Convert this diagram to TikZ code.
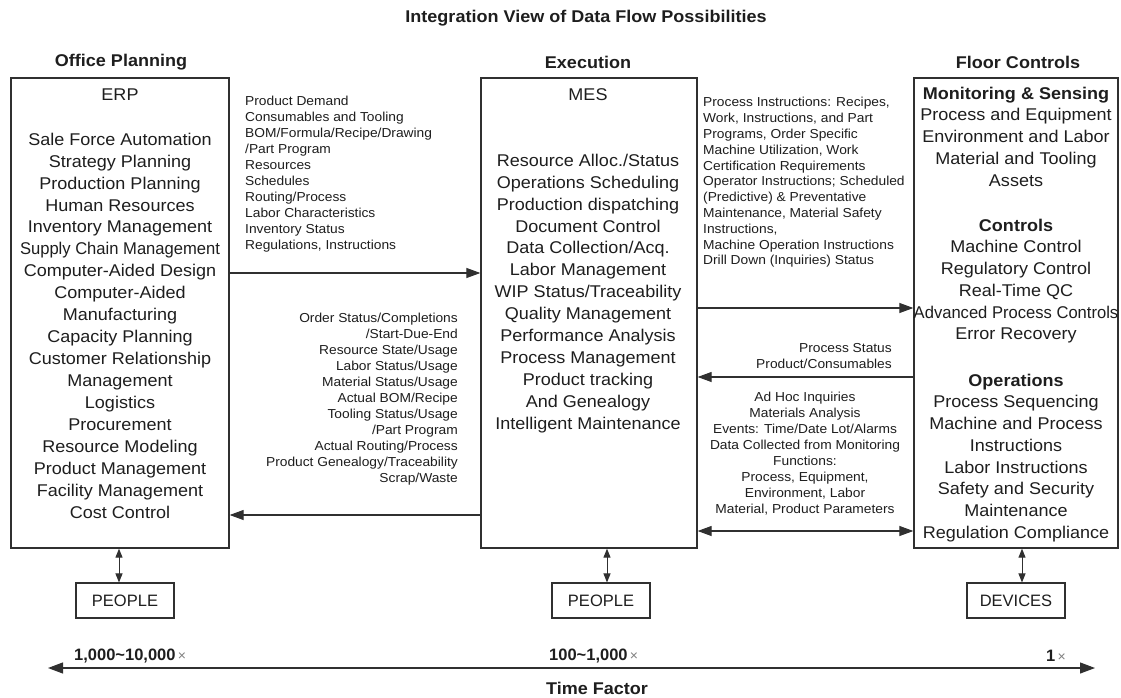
\documentclass[tikz,border=0pt]{standalone}
\usepackage{fontspec}
\usepackage{graphicx}
\setmainfont{Liberation Sans}
\newfontfamily\bodyface[FakeStretch=1.06]{Liberation Sans}
\usetikzlibrary{arrows.meta,calc}
\definecolor{ink}{HTML}{1E1E1E}
\definecolor{rule}{HTML}{303030}
\tikzset{
  sysbox/.style={draw=rule, line width=1.3pt, inner sep=0pt},
  tagbox/.style={draw=rule, line width=1.1pt, inner sep=0pt, minimum width=98pt, minimum height=35pt,
    font=\fontsize{16.5}{19}\selectfont, text=ink},
  heading/.style={font=\bodyface\bfseries\fontsize{17}{20}\selectfont, text=ink, inner sep=0pt},
  boxhead/.style={font=\bodyface\fontsize{17}{21.94}\selectfont, text=ink, inner sep=0pt},
  bodylist/.style={font=\bodyface\fontsize{17}{21.94}\selectfont, text=ink, inner sep=0pt, align=center, anchor=north},
  floorlist/.style={font=\bodyface\fontsize{17}{21.7}\selectfont, text=ink, inner sep=0pt, align=center, anchor=north},
  note/.style={font=\bodyface\fontsize{13}{16}\selectfont, text=ink, inner sep=0pt},
  tip/.style={Triangle[length=14pt,width=10pt]},
  flow/.style={draw=rule, line width=1.1pt, -{Triangle[length=14pt,width=10pt]}},
  twoway/.style={draw=rule, line width=1.1pt, {Triangle[length=14pt,width=10pt]}-{Triangle[length=14pt,width=10pt]}},
  link/.style={draw=rule, line width=1pt, {Triangle[length=9pt,width=7pt]}-{Triangle[length=9pt,width=7pt]}},
  timeaxis/.style={draw=rule, line width=1.1pt, {Triangle[length=15pt,width=11pt]}-{Triangle[length=15pt,width=11pt]}},
  scale label/.style={font=\bfseries\fontsize{16.5}{19}\selectfont, text=ink, inner sep=0pt, anchor=west}
}
\newcommand{\lighttimes}{{\color{gray}\mdseries\fontsize{14}{16}\selectfont\,×}}
\begin{document}
\begin{tikzpicture}[x=1pt,y=-1pt]
\useasboundingbox (0,0) rectangle (1121,698);
\fill[white] (0,0) rectangle (1121,698);

% titles
\node[heading] (title) at (586,18) {Integration View of Data Flow Possibilities};
\node[heading] (hoffice) at (121,62) {Office Planning};
\node[heading] (hexec) at (588,62) {Execution};
\node[heading] (hfloor) at (1018,62) {Floor Controls};

% the three system boxes
\node[sysbox, minimum width=218pt, minimum height=470pt] (erp) at (120,313) {};
\node[sysbox, minimum width=216pt, minimum height=470pt] (mes) at (589,313) {};
\node[sysbox, minimum width=204pt, minimum height=470pt] (floor) at (1016,313) {};

% ERP contents
\node[boxhead] (erphead) at (120,95) {ERP};
\node[bodylist] (erplist) at (120,132.7) {Sale Force Automation\\Strategy Planning\\Production Planning\\
  Human Resources\\Inventory Management\\\scalebox{0.92}[1]{Supply Chain Management}\\
  Computer-Aided Design\\Computer-Aided\\Manufacturing\\Capacity Planning\\
  Customer Relationship\\Management\\Logistics\\Procurement\\Resource Modeling\\
  Product Management\\Facility Management\\Cost Control};

% MES contents
\node[boxhead] (meshead) at (588,95) {MES};
\node[bodylist] (meslist) at (588,153.7) {Resource Alloc./Status\\Operations Scheduling\\
  Production dispatching\\Document Control\\Data Collection/Acq.\\Labor Management\\
  WIP Status/Traceability\\Quality Management\\Performance Analysis\\Process Management\\
  Product tracking\\And Genealogy\\Intelligent Maintenance};

% floor control contents
\node[floorlist] (monitor) at (1016,86.7) {\textbf{Monitoring \& Sensing}\\Process and Equipment\\
  Environment and Labor\\Material and Tooling\\Assets};
\node[floorlist] (controls) at (1016,218.7) {\textbf{Controls}\\Machine Control\\Regulatory Control\\
  Real-Time QC\\\scalebox{0.92}[1]{Advanced Process Controls}\\Error Recovery};
\node[floorlist] (operations) at (1016,373.7) {\textbf{Operations}\\Process Sequencing\\
  Machine and Process\\Instructions\\Labor Instructions\\Safety and Security\\Maintenance\\
  Regulation Compliance};

% data flow labels
\node[note, align=left, anchor=north west] (planflow) at (245,96.2) {Product Demand\\
  Consumables and Tooling\\BOM/Formula/Recipe/Drawing\\/Part Program\\Resources\\Schedules\\
  Routing/Process\\Labor Characteristics\\Inventory Status\\Regulations, Instructions};
\node[note, align=right, anchor=north east] (statusflow) at (458,313.2) {Order Status/Completions\\
  /Start-Due-End\\Resource State/Usage\\Labor Status/Usage\\Material Status/Usage\\
  Actual BOM/Recipe\\Tooling Status/Usage\\/Part Program\\Actual Routing/Process\\
  Product Genealogy/Traceability\\Scrap/Waste};
\node[note, align=left, anchor=north west, font=\bodyface\fontsize{13}{15.8}\selectfont] (instrflow) at (703,97.2) {Process Instructions: Recipes,\\
  Work, Instructions, and Part\\Programs, Order Specific\\Machine Utilization, Work\\
  Certification Requirements\\Operator Instructions; Scheduled\\(Predictive) \& Preventative\\
  Maintenance, Material Safety\\Instructions,\\Machine Operation Instructions\\
  Drill Down (Inquiries) Status};
\node[note, align=right, anchor=north east] (procflow) at (892,343.2) {Process Status\\Product/Consumables};
\node[note, align=center, anchor=north] (dataflow) at (805,392.2) {Ad Hoc Inquiries\\Materials Analysis\\
  Events: Time/Date Lot/Alarms\\Data Collected from Monitoring\\Functions:\\Process, Equipment,\\
  Environment, Labor\\Material, Product Parameters};

% connector levels
\coordinate (lvplan) at (0,273);
\coordinate (lvinstr) at (0,308);
\coordinate (lvproc) at (0,377);
\coordinate (lvstatus) at (0,515);
\coordinate (lvdata) at (0,531);

\draw[flow] (erp.east |- lvplan) -- (mes.west |- lvplan);
\draw[flow] (mes.west |- lvstatus) -- (erp.east |- lvstatus);
\draw[flow] (mes.east |- lvinstr) -- (floor.west |- lvinstr);
\draw[flow] (floor.west |- lvproc) -- (mes.east |- lvproc);
\draw[twoway] (mes.east |- lvdata) -- (floor.west |- lvdata);

% people and devices
\node[tagbox] (people1) at (125,600.5) {PEOPLE};
\node[tagbox] (people2) at (601,600.5) {PEOPLE};
\node[tagbox] (devices) at (1016,600.5) {DEVICES};
\coordinate (cx1) at (119,0);
\coordinate (cx2) at (607,0);
\coordinate (cx3) at (1022,0);
\draw[link] (erp.south -| cx1) -- (people1.north -| cx1);
\draw[link] (mes.south -| cx2) -- (people2.north -| cx2);
\draw[link] (floor.south -| cx3) -- (devices.north -| cx3);

% time factor axis
\node[scale label] (slow) at (74,656) {1,000\char`\~10,000\lighttimes};
\node[scale label] (mid) at (549,656) {100\char`\~1,000\lighttimes};
\node[scale label] (fast) at (1046,656) {1\lighttimes};
\coordinate (axleft) at (48,668);
\coordinate (axright) at (1095,668);
\draw[timeaxis] (axleft) -- (axright);
\node[heading] (tfactor) at (597,688) {Time Factor};
\end{tikzpicture}
\end{document}
